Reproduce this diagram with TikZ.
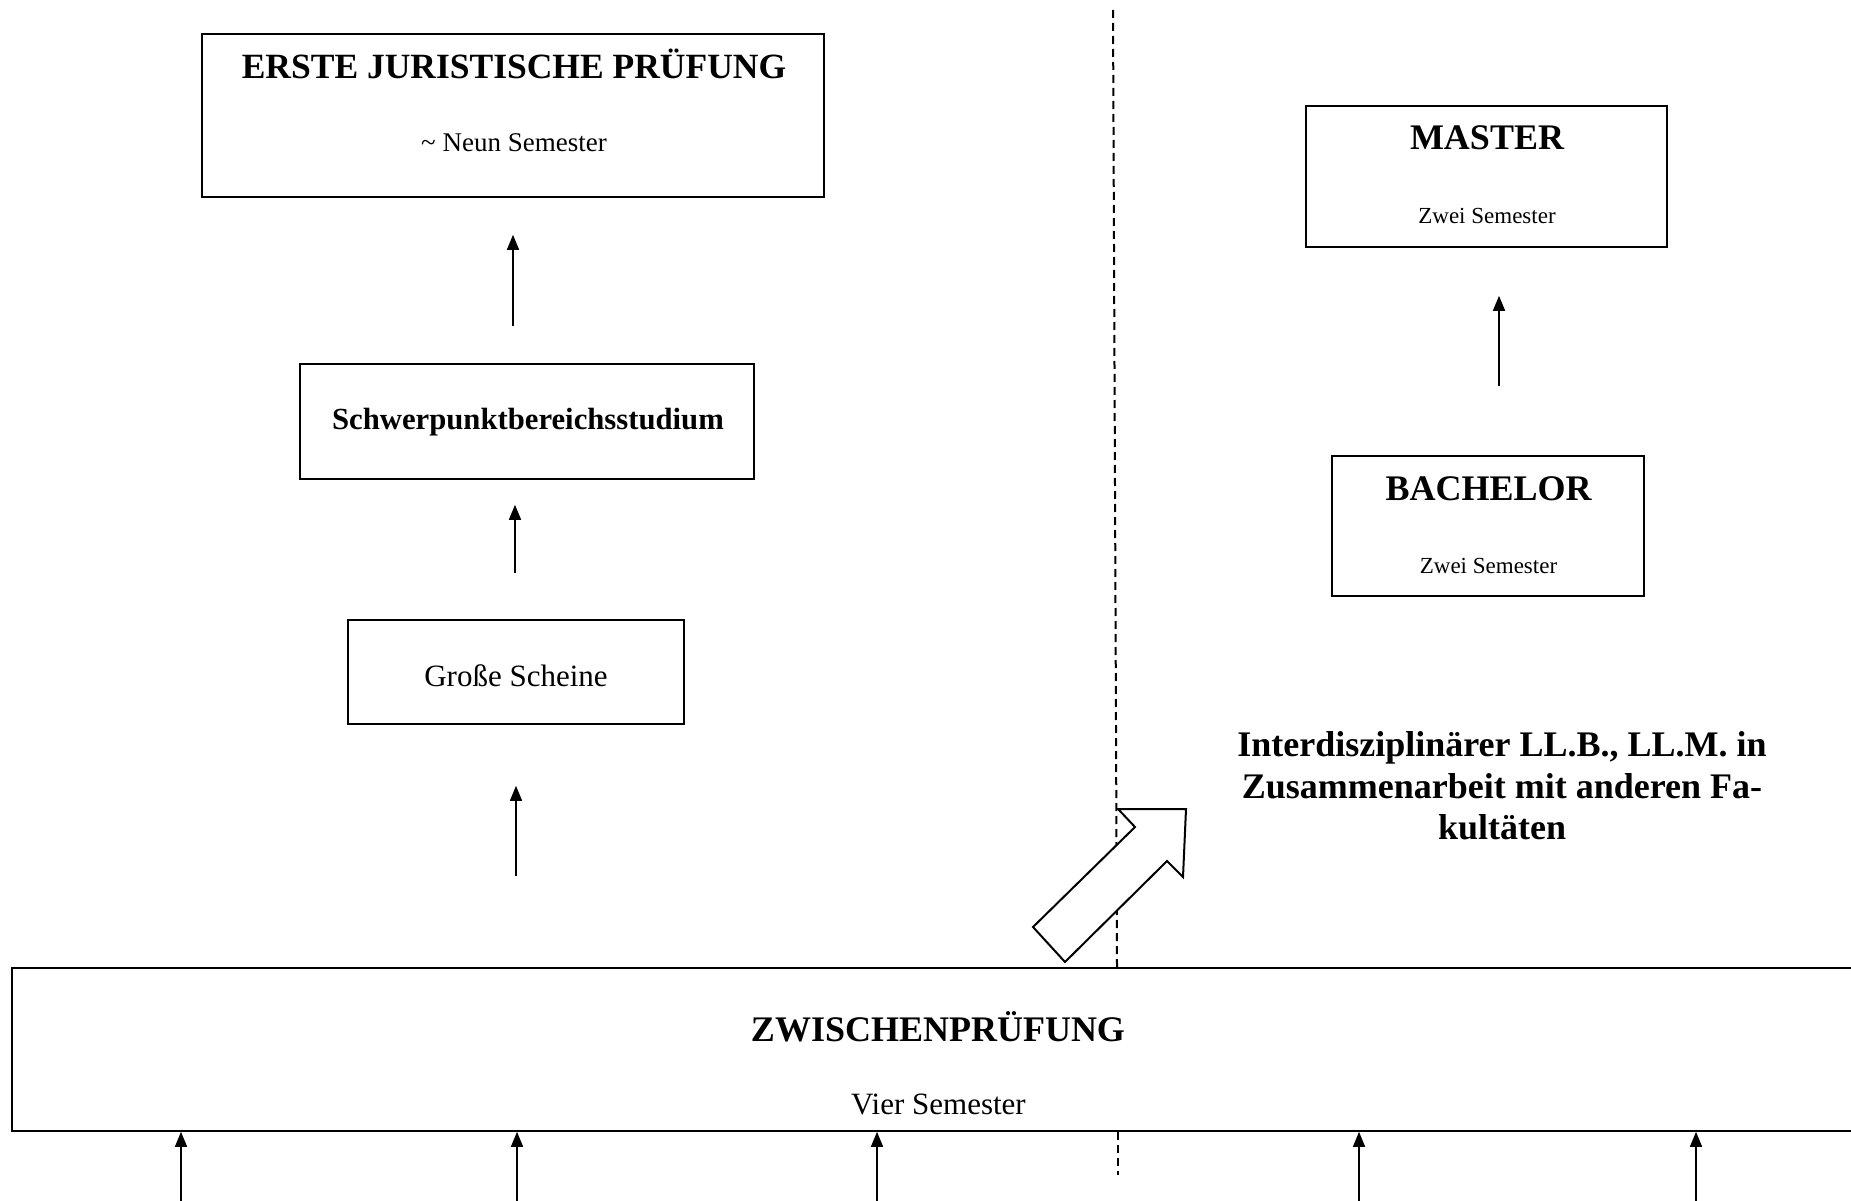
\documentclass[tikz,border=0pt]{standalone}
\usepackage{fontspec}
\setmainfont{Liberation Serif}
\usetikzlibrary{arrows.meta}
\tikzset{
  box/.style={draw=black, line width=1.6pt, rectangle, inner sep=0pt},
  arr/.style={line width=1.5pt, -{Triangle[length=15pt,width=12pt]}},
  divider/.style={line width=2pt, dash pattern=on 8pt off 5pt},
  lbl/.style={anchor=base, inner sep=0pt},
  big/.style={font=\fontsize{36}{41.5}\selectfont\bfseries},
}
\begin{document}
\begin{tikzpicture}[x=1pt, y=-1pt]
\useasboundingbox (0,0) rectangle (1851,1201);
\fill[white] (0,0) rectangle (1851,1201);

% boxes
\node[box, minimum width=622pt, minimum height=163pt] (erste) at (513,115.5) {};
\node[box, minimum width=454pt, minimum height=115pt] (schwer) at (527,421.5) {};
\node[box, minimum width=336pt, minimum height=104pt] (grosse) at (516,672) {};
\node[box, minimum width=1858pt, minimum height=163pt] (zp) at (941,1049.5) {};
\node[box, minimum width=361pt, minimum height=141pt] (master) at (1486.5,176.5) {};
\node[box, minimum width=312pt, minimum height=140pt] (bachelor) at (1488,526) {};

% texts
\node[lbl, big, font=\fontsize{35.5}{40}\selectfont\bfseries] (t1) at (514,79) {ERSTE JURISTISCHE PRÜFUNG};
\node[lbl, font=\fontsize{27}{30}\selectfont] (t2) at (514,152) {\char`~\ Neun Semester};
\node[lbl, font=\fontsize{30.7}{34}\selectfont\bfseries] (t3) at (528,429) {Schwerpunktbereichsstudium};
\node[lbl, font=\fontsize{31}{34}\selectfont] (t4) at (516,686) {Große Scheine};
\node[lbl, big] (t5) at (938,1041) {ZWISCHENPRÜFUNG};
\node[lbl, font=\fontsize{31}{34}\selectfont] (t6) at (938.5,1114) {Vier Semester};
\node[lbl, big] (t7) at (1487,150) {MASTER};
\node[lbl, font=\fontsize{23}{26}\selectfont] (t8) at (1487,223) {Zwei Semester};
\node[lbl, big] (t9) at (1488.5,500) {BACHELOR};
\node[lbl, font=\fontsize{23}{26}\selectfont] (t10) at (1488.5,573) {Zwei Semester};
\node[big, align=center, inner sep=0pt] (inter) at (1502,786)
  {Interdisziplinärer LL.B., LL.M. in\\Zusammenarbeit mit anderen Fa-\\kultäten};

% vertical arrows between the stages
\draw[arr, shorten <=37pt, shorten >=37pt] (schwer.north -| erste.south) -- (erste.south);
\draw[arr, shorten <=46pt, shorten >=25pt] (grosse.north -| 515,0) -- (schwer.south -| 515,0);
\draw[arr, shorten <=91pt, shorten >=61pt] (zp.north -| grosse.south) -- (grosse.south);
\draw[arr, shorten <=69pt, shorten >=48pt] (bachelor.north -| 1499,0) -- (master.south -| 1499,0);

% arrows entering the intermediate exam from below
\foreach \i/\xx in {1/181,2/517,3/877,4/1359,5/1696} {
  \coordinate (in\i) at (\xx,1201);
  \draw[arr] (in\i) -- (zp.south -| in\i);
}

% dashed divider
\coordinate (dtop) at (1113,10);
\coordinate (dbot) at (1118,1175);
\draw[divider] (dtop) -- (zp.north -| 1117,0);
\draw[divider] (zp.south -| dbot) -- (dbot);

% hollow block arrow
\draw[line width=2pt, fill=white, line join=miter]
  (1065,962) -- (1033,927) -- (1135,827) -- (1118,809) -- (1186,809)
  -- (1183,877) -- (1167,861) -- cycle;
\end{tikzpicture}
\end{document}
